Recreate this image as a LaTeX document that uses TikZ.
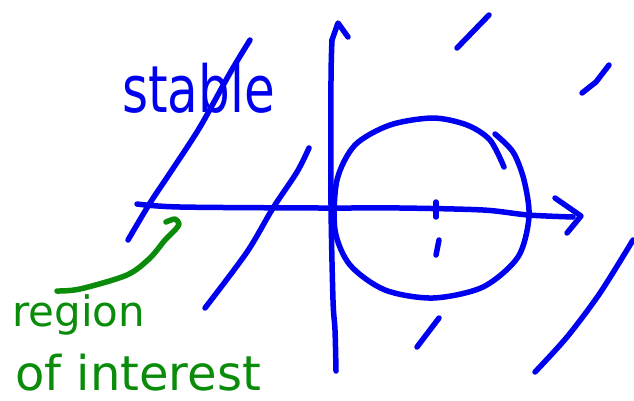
\documentclass[tikz,border=0pt]{standalone}
\usepackage{fontspec}
\usepackage{graphicx}
\setmainfont{DejaVu Sans}
\definecolor{inkblue}{RGB}{0,0,240}
\definecolor{inkgreen}{RGB}{10,140,10}
\begin{document}
\begin{tikzpicture}[x=1pt,y=-1pt,
  stroke/.style={line width=5.5pt,line cap=round,line join=round},
  blueink/.style={stroke,draw=inkblue},
  greenink/.style={stroke,draw=inkgreen}]
\useasboundingbox (0,0) rectangle (634,400);
% horizontal axis
\draw[blueink] plot[smooth] coordinates {(137,204) (180,207) (320,208) (400,208) (483,210) (528,215) (573,217)};
\draw[blueink] (555,198) -- (581,216) -- (567,233);
% vertical axis
\draw[blueink] plot[smooth] coordinates {(336,371) (335,330) (333,300) (331,205) (331,80) (332,40)};
\draw[blueink] (332,40) -- (338,23) -- (348,37);
% circle (open stroke with overlapping ends)
\draw[blueink] plot[smooth] coordinates {(495,134) (513,152) (524,180) (529,217) (518,257) (483,287) (433,298) (385,290) (350,265) (335,230) (337,180) (355,145) (390,125) (433,118) (467,125) (490,140) (504,167)};
\draw[blueink] (436,202) -- (436,217);
\draw[blueink] (439,240) -- (436,255);
% hatch lines
\draw[blueink] plot[smooth] coordinates {(128,240) (150,203) (172,170) (200,127) (230,73) (250,40)};
\draw[blueink] plot[smooth] coordinates {(205,308) (247,252) (273,208) (297,172) (309,148)};
\draw[blueink] (457,48) -- (489,15);
\draw[blueink] (582,93) -- (596,82) -- (609,65);
\draw[blueink] (417,347) -- (439,318);
\draw[blueink] plot[smooth] coordinates {(535,372) (567,337) (600,293) (633,240)};
% green arrow
\draw[greenink] plot[smooth] coordinates {(57,291) (80,289) (127,275) (150,258) (165,240) (175,230) (179,224) (175,219) (166,222)};
% texts
\node[text=inkblue, font=\fontsize{50}{50}\selectfont, anchor=base west, inner sep=0pt] (stable) at (122,112) {\scalebox{1}[1.3]{stable}};
\node[text=inkgreen, font=\fontsize{42}{42}\selectfont, anchor=base west, inner sep=0pt] (region) at (12,326) {region};
\node[text=inkgreen, font=\fontsize{48}{48}\selectfont, anchor=base west, inner sep=0pt] (interest) at (15,390) {of interest};
\end{tikzpicture}
\end{document}
